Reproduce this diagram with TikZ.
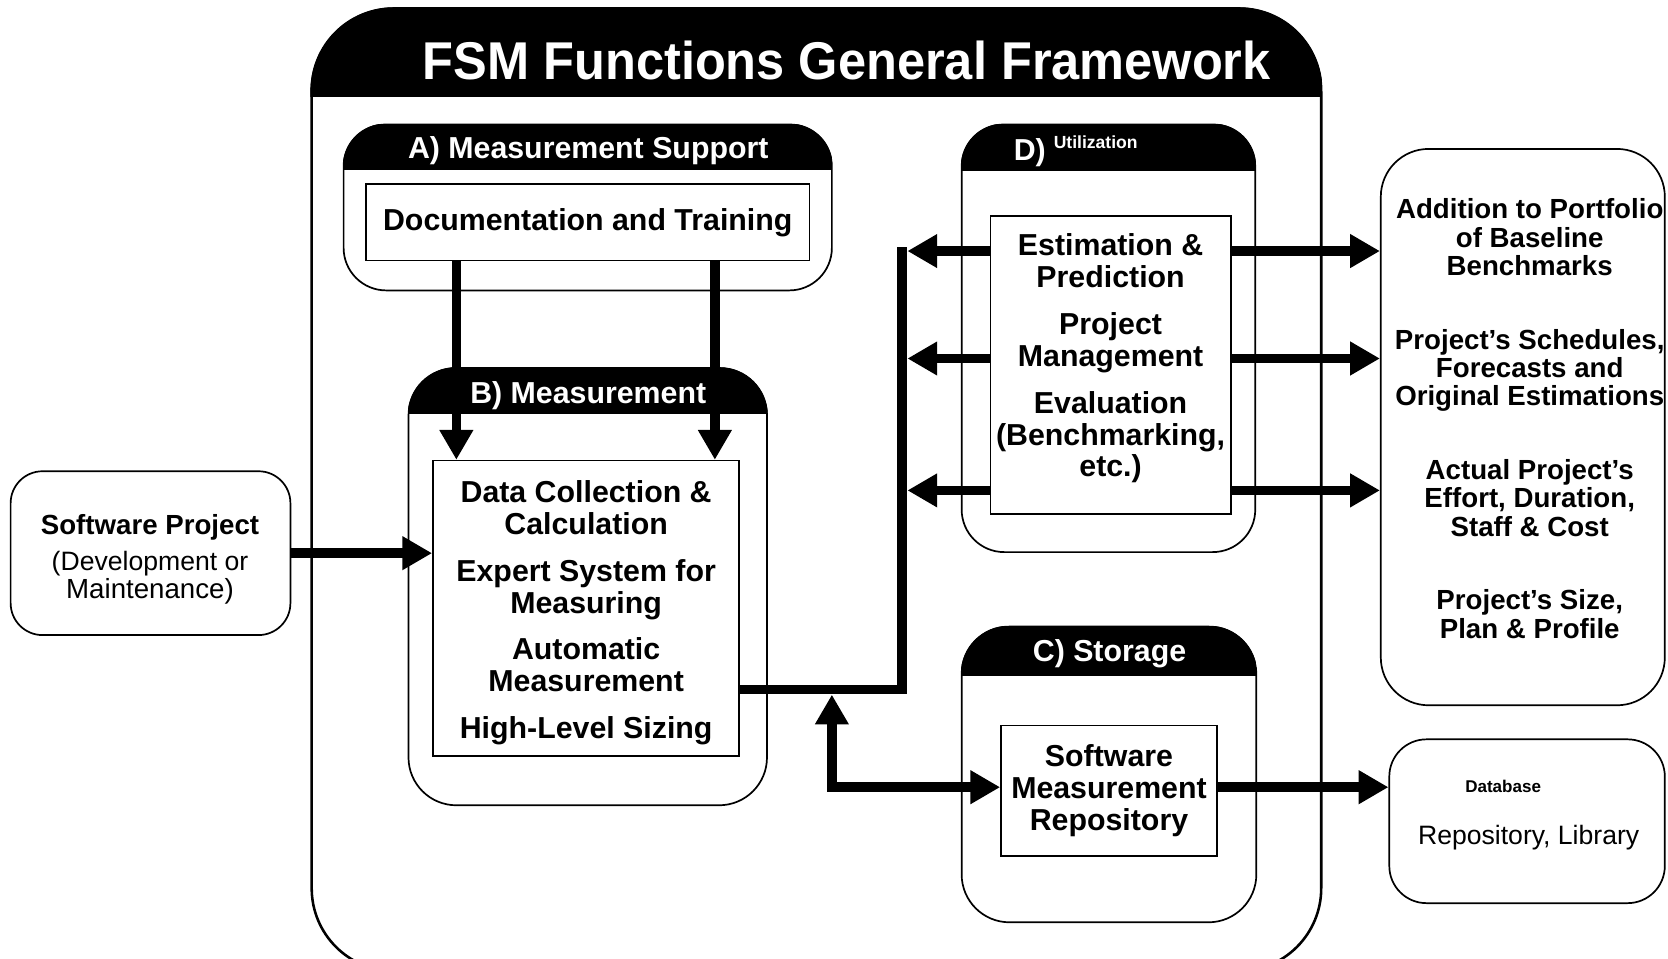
\documentclass[tikz,border=0pt]{standalone}
\usepackage{fontspec}
\setmainfont{Liberation Sans}
\newfontfamily\titlefont[FakeStretch=0.95]{Liberation Sans Bold}
\usetikzlibrary{arrows.meta}
\begin{document}
\begin{tikzpicture}[x=1pt,y=-1pt,
 cont/.style={draw=black,line width=1.6pt,fill=white,inner sep=0pt},
 ibox/.style={draw=black,line width=1.6pt,fill=white,inner sep=0pt,align=center,font=\fontsize{28.5}{30}\selectfont\bfseries},
 blk/.style={align=center,inner sep=0pt,font=\fontsize{28.5}{30}\selectfont\bfseries},
 hd/.style={text=white,inner sep=0pt,font=\fontsize{28.5}{30}\selectfont\bfseries,text height=20.4pt,text depth=0pt},
 flow/.style={line width=9pt,-{Triangle[length=28pt,width=30pt]}},
 flowboth/.style={line width=9pt,line join=miter,{Triangle[length=28pt,width=30pt]}-{Triangle[length=28pt,width=30pt]}},
 busline/.style={line width=9pt,line join=miter},
]
\useasboundingbox (0,0) rectangle (1568,901);
\clip (0,0) rectangle (1568,901);
\fill[white] (0,0) rectangle (1568,901);

% main frame
\node[cont,line width=2.4pt,rounded corners=78pt,minimum width=949pt,minimum height=905pt] (main) at (767.5,460.5) {};
\begin{scope}
\clip[rounded corners=78pt] (main.north west) rectangle (main.south east);
\fill (main.north west) rectangle ([yshift=-84pt]main.north east);
\end{scope}
\node[text=white,inner sep=0pt,font=\titlefont\fontsize{50}{50}\selectfont,text height=35.8pt,text depth=0pt] (title) at (796,57) {FSM Functions General Framework};

% container A
\node[cont,rounded corners=40pt,minimum width=459pt,minimum height=156pt] (contA) at (552.5,195) {};
\begin{scope}
\clip[rounded corners=40pt] (contA.north west) rectangle (contA.south east);
\fill (contA.north west) rectangle ([yshift=-44pt]contA.north east);
\end{scope}
\node[hd] (tA) at (553,139) {A) Measurement Support};

% container B
\node[cont,rounded corners=45pt,minimum width=337pt,minimum height=411pt] (contB) at (552.5,551.5) {};
\begin{scope}
\clip[rounded corners=45pt] (contB.north west) rectangle (contB.south east);
\fill (contB.north west) rectangle ([yshift=-44pt]contB.north east);
\end{scope}
\node[hd] (tB) at (553,369) {B) Measurement};

% container D
\node[cont,rounded corners=40pt,minimum width=276pt,minimum height=402pt] (contD) at (1042,318) {};
\begin{scope}
\clip[rounded corners=40pt] (contD.north west) rectangle (contD.south east);
\fill (contD.north west) rectangle ([yshift=-45pt]contD.north east);
\end{scope}
\node[hd] (tD) at (968,141) {D)};
\node[text=white,inner sep=0pt,font=\fontsize{16.5}{17}\selectfont\bfseries,text height=11.8pt,text depth=0pt] (tDu) at (1030,134) {Utilization};

% container C
\node[cont,rounded corners=45pt,minimum width=277pt,minimum height=278pt] (contC) at (1042.5,728) {};
\begin{scope}
\clip[rounded corners=45pt] (contC.north west) rectangle (contC.south east);
\fill (contC.north west) rectangle ([yshift=-47pt]contC.north east);
\end{scope}
\node[hd] (tC) at (1043,612) {C) Storage};

% outside boxes
\node[cont,rounded corners=30pt,minimum width=263pt,minimum height=154pt] (sp) at (141.5,520) {};
\node[align=center,inner sep=0pt,font=\fontsize{26}{26}\selectfont] (sptext) at (141,526) {\textbf{Software Project}\\[7.7pt]\fontsize{25}{26}\selectfont(Development or\\Maintenance)};

\node[cont,rounded corners=45pt,minimum width=267pt,minimum height=523pt] (out) at (1431.5,401.5) {};
\node[align=center,inner sep=0pt,font=\fontsize{26}{26.7}\selectfont\bfseries] (outtext) at (1438,393.5) {Addition to Portfolio\\of Baseline\\Benchmarks\\[42.5pt]Project’s Schedules,\\Forecasts and\\Original Estimations\\[42.5pt]Actual Project’s\\Effort, Duration,\\Staff \& Cost\\[42.5pt]Project’s Size,\\Plan \& Profile};

\node[cont,rounded corners=35pt,minimum width=259pt,minimum height=154pt] (db) at (1435.5,772) {};
\node[inner sep=0pt,font=\fontsize{16}{16}\selectfont\bfseries,text height=11.5pt,text depth=0pt] (dbt1) at (1413,739) {Database};
\node[inner sep=0pt,font=\fontsize{25}{25}\selectfont,text height=17.9pt,text depth=0pt] (dbt2) at (1437,785) {Repository, Library};

% helper coordinates
\coordinate (r1) at (0,236);
\coordinate (r2) at (0,337);
\coordinate (r3) at (0,461);
\coordinate (r4) at (0,740);
\coordinate (busbot) at (848,648);
\coordinate (bustop) at (848,232);
\coordinate (busR) at (853,0);
\coordinate (junc) at (782,653);
\coordinate (dl) at (429,0);
\coordinate (dr) at (672,0);

% inner boxes
\node[ibox,minimum width=417pt,minimum height=72pt] (doc) at (552.5,209) {Documentation and Training};
\node[ibox,minimum width=288pt,minimum height=278pt] (innerB) at (551,572) {};
\node[blk] (tBtext) at (551,576) {Data Collection \&\\Calculation\\[14pt]Expert System for\\Measuring\\[14pt]Automatic\\Measurement\\[14pt]High-Level Sizing};
\node[ibox,minimum width=226pt,minimum height=280pt] (innerD) at (1044,343) {};
\node[blk] (tDtext) at (1044,337) {Estimation \&\\Prediction\\[14pt]Project\\Management\\[14pt]Evaluation\\(Benchmarking,\\etc.)};
\node[ibox,minimum width=203pt,minimum height=123pt] (innerC) at (1042.5,743.5) {Software\\Measurement\\Repository};

% connectors
\draw[flow] (doc.south -| dl) -- (innerB.north -| dl);
\draw[flow] (doc.south -| dr) -- (innerB.north -| dr);
\draw[flow] (sp.east) -- (innerB.west |- sp.east);
\draw[busline] (innerB.east |- busbot) -- (busbot) -- (bustop);
\foreach \r in {r1,r2,r3} {
  \draw[flow] (innerD.west |- \r) -- (busR |- \r);
  \draw[flow] (innerD.east |- \r) -- (out.west |- \r);
}
\draw[flowboth] (junc) |- (innerC.west |- r4);
\draw[flow] (innerC.east |- r4) -- (db.west |- r4);
\end{tikzpicture}
\end{document}
